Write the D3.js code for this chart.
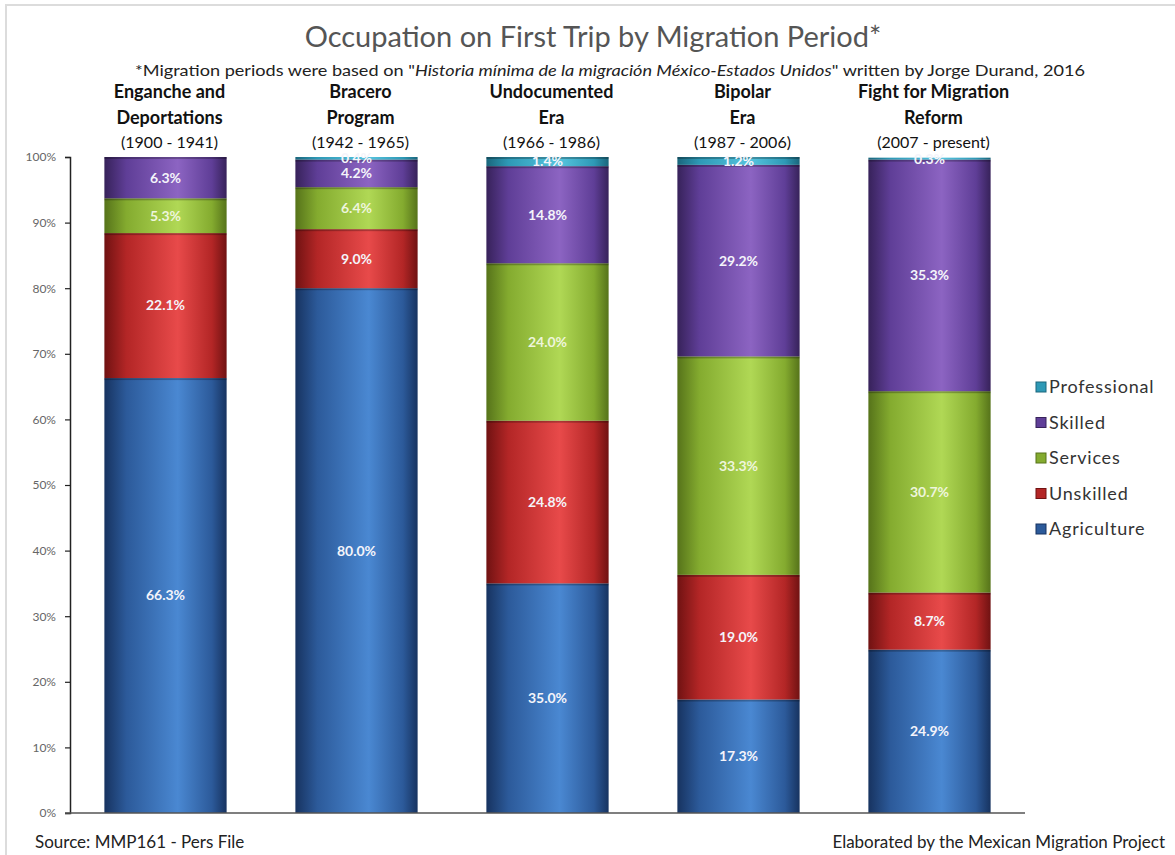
<!DOCTYPE html>
<html>
<head>
<meta charset="utf-8">
<script src="https://cdn.jsdelivr.net/npm/d3@7"></script>
<style>
  body { margin: 0; background: #fff; }
  svg { display: block; }
  text { font-family: Lato, "Open Sans", sans-serif; }
</style>
</head>
<body>
<svg id="chart" width="1175" height="855"></svg>
<script>
// ---- data ----
const periodLine1 = ["Enganche and", "Bracero", "Undocumented", "Bipolar", "Fight for Migration"];
const periodLine2 = ["Deportations", "Program", "Era", "Era", "Reform"];
const periodYears = ["(1900 - 1941)", "(1942 - 1965)", "(1966 - 1986)", "(1987 - 2006)", "(2007 - present)"];
const seriesNames = ["Agriculture", "Unskilled", "Services", "Skilled", "Professional"];
const agriculture = [66.3, 80.0, 35.0, 17.3, 24.9];
const unskilled   = [22.1, 9.0, 24.8, 19.0, 8.7];
const services    = [5.3, 6.4, 24.0, 33.3, 30.7];
const skilled     = [6.3, 4.2, 14.8, 29.2, 35.3];
const professional = [0, 0.4, 1.4, 1.2, 0.3];
const yTicks = [0, 10, 20, 30, 40, 50, 60, 70, 80, 90, 100];

const seriesValues = [agriculture, unskilled, services, skilled, professional];
const palette = {
  Agriculture:  ["#173360", "#2c5a9a", "#4a88d2"],
  Unskilled:    ["#701212", "#b32626", "#e84a4a"],
  Services:     ["#56731a", "#84ab2f", "#b0d855"],
  Skilled:      ["#37225a", "#5f3e97", "#8c64c2"],
  Professional: ["#1a667c", "#2e99b6", "#56c4de"]
};

const svg = d3.select("#chart");
const W = 1175, H = 855;

// frame
svg.append("path").attr("d", `M6,${H} V5 H${W}`).attr("fill", "none").attr("stroke", "#dcdcdc").attr("stroke-width", 2);

// gradients
const defs = svg.append("defs");
seriesNames.forEach(name => {
  const c = palette[name];
  const g = defs.append("linearGradient").attr("id", "g-" + name).attr("x1", "0").attr("x2", "1").attr("y1", "0").attr("y2", "0");
  g.append("stop").attr("offset", "0%").attr("stop-color", c[0]);
  g.append("stop").attr("offset", "18%").attr("stop-color", c[1]);
  g.append("stop").attr("offset", "60%").attr("stop-color", c[2]);
  g.append("stop").attr("offset", "88%").attr("stop-color", c[1]);
  g.append("stop").attr("offset", "100%").attr("stop-color", c[0]);
});

// scales
const x = d3.scaleBand().domain(d3.range(periodLine1.length)).range([70, 1025]).paddingInner(0.36).paddingOuter(0.18);
const y = d3.scaleLinear().domain([0, 100]).range([813, 157]);

// stacked data
const rows = periodLine1.map((p, i) => {
  const r = { i };
  seriesNames.forEach((s, k) => r[s] = seriesValues[k][i]);
  return r;
});
const stacked = d3.stack().keys(seriesNames)(rows);

// bars
const layers = svg.append("g").selectAll("g").data(stacked).join("g")
  .attr("fill", d => `url(#g-${d.key})`);
layers.selectAll("rect").data(d => d.filter(s => s[1] - s[0] > 0)).join("rect")
  .attr("x", d => x(d.data.i))
  .attr("width", x.bandwidth())
  .attr("y", d => y(d[1]))
  .attr("height", d => y(d[0]) - y(d[1]));

// dark seam at top of each segment
stacked.forEach(layer => {
  svg.append("g").selectAll("rect").data(layer.filter(s => s[1] - s[0] > 0.8)).join("rect")
    .attr("x", d => x(d.data.i))
    .attr("width", x.bandwidth())
    .attr("y", d => y(d[1]))
    .attr("height", 2)
    .attr("fill", "#000").attr("opacity", 0.25);
});

// segment labels
stacked.forEach(layer => {
  svg.append("g").selectAll("text").data(layer.filter(s => s[1] - s[0] > 0)).join("text")
    .attr("x", d => x(d.data.i) + x.bandwidth() / 2)
    .attr("y", d => y((d[0] + d[1]) / 2))
    .attr("dy", "0.35em")
    .attr("text-anchor", "middle")
    .attr("font-size", 14)
    .attr("font-weight", "bold")
    .attr("fill", layer.key === "Services" ? "#eef5dc" : "#f4f4fa")
    .text(d => (d[1] - d[0]).toFixed(1) + "%");
});

// y axis
const yAxis = d3.axisLeft(y).tickValues(yTicks).tickFormat(d => d + "%").tickSize(5).tickPadding(9);
const ga = svg.append("g").attr("transform", "translate(70,0)").call(yAxis);
ga.select(".domain").attr("stroke", "#222").attr("stroke-width", 1.5);
ga.selectAll(".tick line").attr("stroke", "#222").attr("stroke-width", 1.2);
ga.selectAll(".tick text").attr("fill", "#666").attr("font-size", 12).attr("font-family", "Lato, sans-serif");

// baseline
svg.append("line").attr("x1", 65).attr("x2", 1025).attr("y1", y(0)).attr("y2", y(0)).attr("stroke", "#555").attr("stroke-width", 1.5);

// title
svg.append("text").attr("x", 593).attr("y", 47).attr("text-anchor", "middle")
  .attr("font-size", 29).attr("fill", "#555").text("Occupation on First Trip by Migration Period*");

// subtitle
const sub = svg.append("text").attr("x", 610).attr("y", 76).attr("text-anchor", "middle").attr("font-size", 16)
  .attr("textLength", 950).attr("lengthAdjust", "spacingAndGlyphs").attr("fill", "#222");
sub.append("tspan").text("*Migration periods were based on \"");
sub.append("tspan").attr("font-style", "italic").text("Historia mínima de la migración México-Estados Unidos");
sub.append("tspan").text("\" written by Jorge Durand, 2016");

// period headers
const hx = i => x(i) + x.bandwidth() / 2 + 4;
svg.append("g").selectAll("text").data(periodLine1).join("text")
  .attr("x", (d, i) => hx(i)).attr("y", 98).attr("text-anchor", "middle")
  .attr("font-size", 18).attr("font-weight", "bold").attr("fill", "#111").text(d => d);
svg.append("g").selectAll("text").data(periodLine2).join("text")
  .attr("x", (d, i) => hx(i)).attr("y", 124).attr("text-anchor", "middle")
  .attr("font-size", 18).attr("font-weight", "bold").attr("fill", "#111").text(d => d);
svg.append("g").selectAll("text").data(periodYears).join("text")
  .attr("x", (d, i) => hx(i)).attr("y", 148).attr("text-anchor", "middle")
  .attr("font-size", 16).attr("fill", "#111").text(d => d);

// legend
const legendOrder = seriesNames.slice().reverse();
const lg = svg.append("g").selectAll("g").data(legendOrder).join("g")
  .attr("transform", (d, i) => `translate(1036, ${387 + i * 35.5})`);
lg.append("rect").attr("x", 0).attr("y", -5).attr("width", 10).attr("height", 10)
  .attr("fill", d => palette[d][1]).attr("stroke", d => palette[d][0]).attr("stroke-width", 1);
lg.append("text").attr("x", 13).attr("y", 0).attr("dy", "0.35em")
  .attr("font-size", 18).attr("letter-spacing", 0.8).attr("fill", "#333").text(d => d);

// footers
svg.append("text").attr("x", 35).attr("y", 848).attr("font-size", 17).attr("fill", "#222").text("Source: MMP161 - Pers File");
svg.append("text").attr("x", 1165).attr("y", 848).attr("text-anchor", "end").attr("font-size", 17).attr("fill", "#222").text("Elaborated by the Mexican Migration Project");
</script>
</body>
</html>
